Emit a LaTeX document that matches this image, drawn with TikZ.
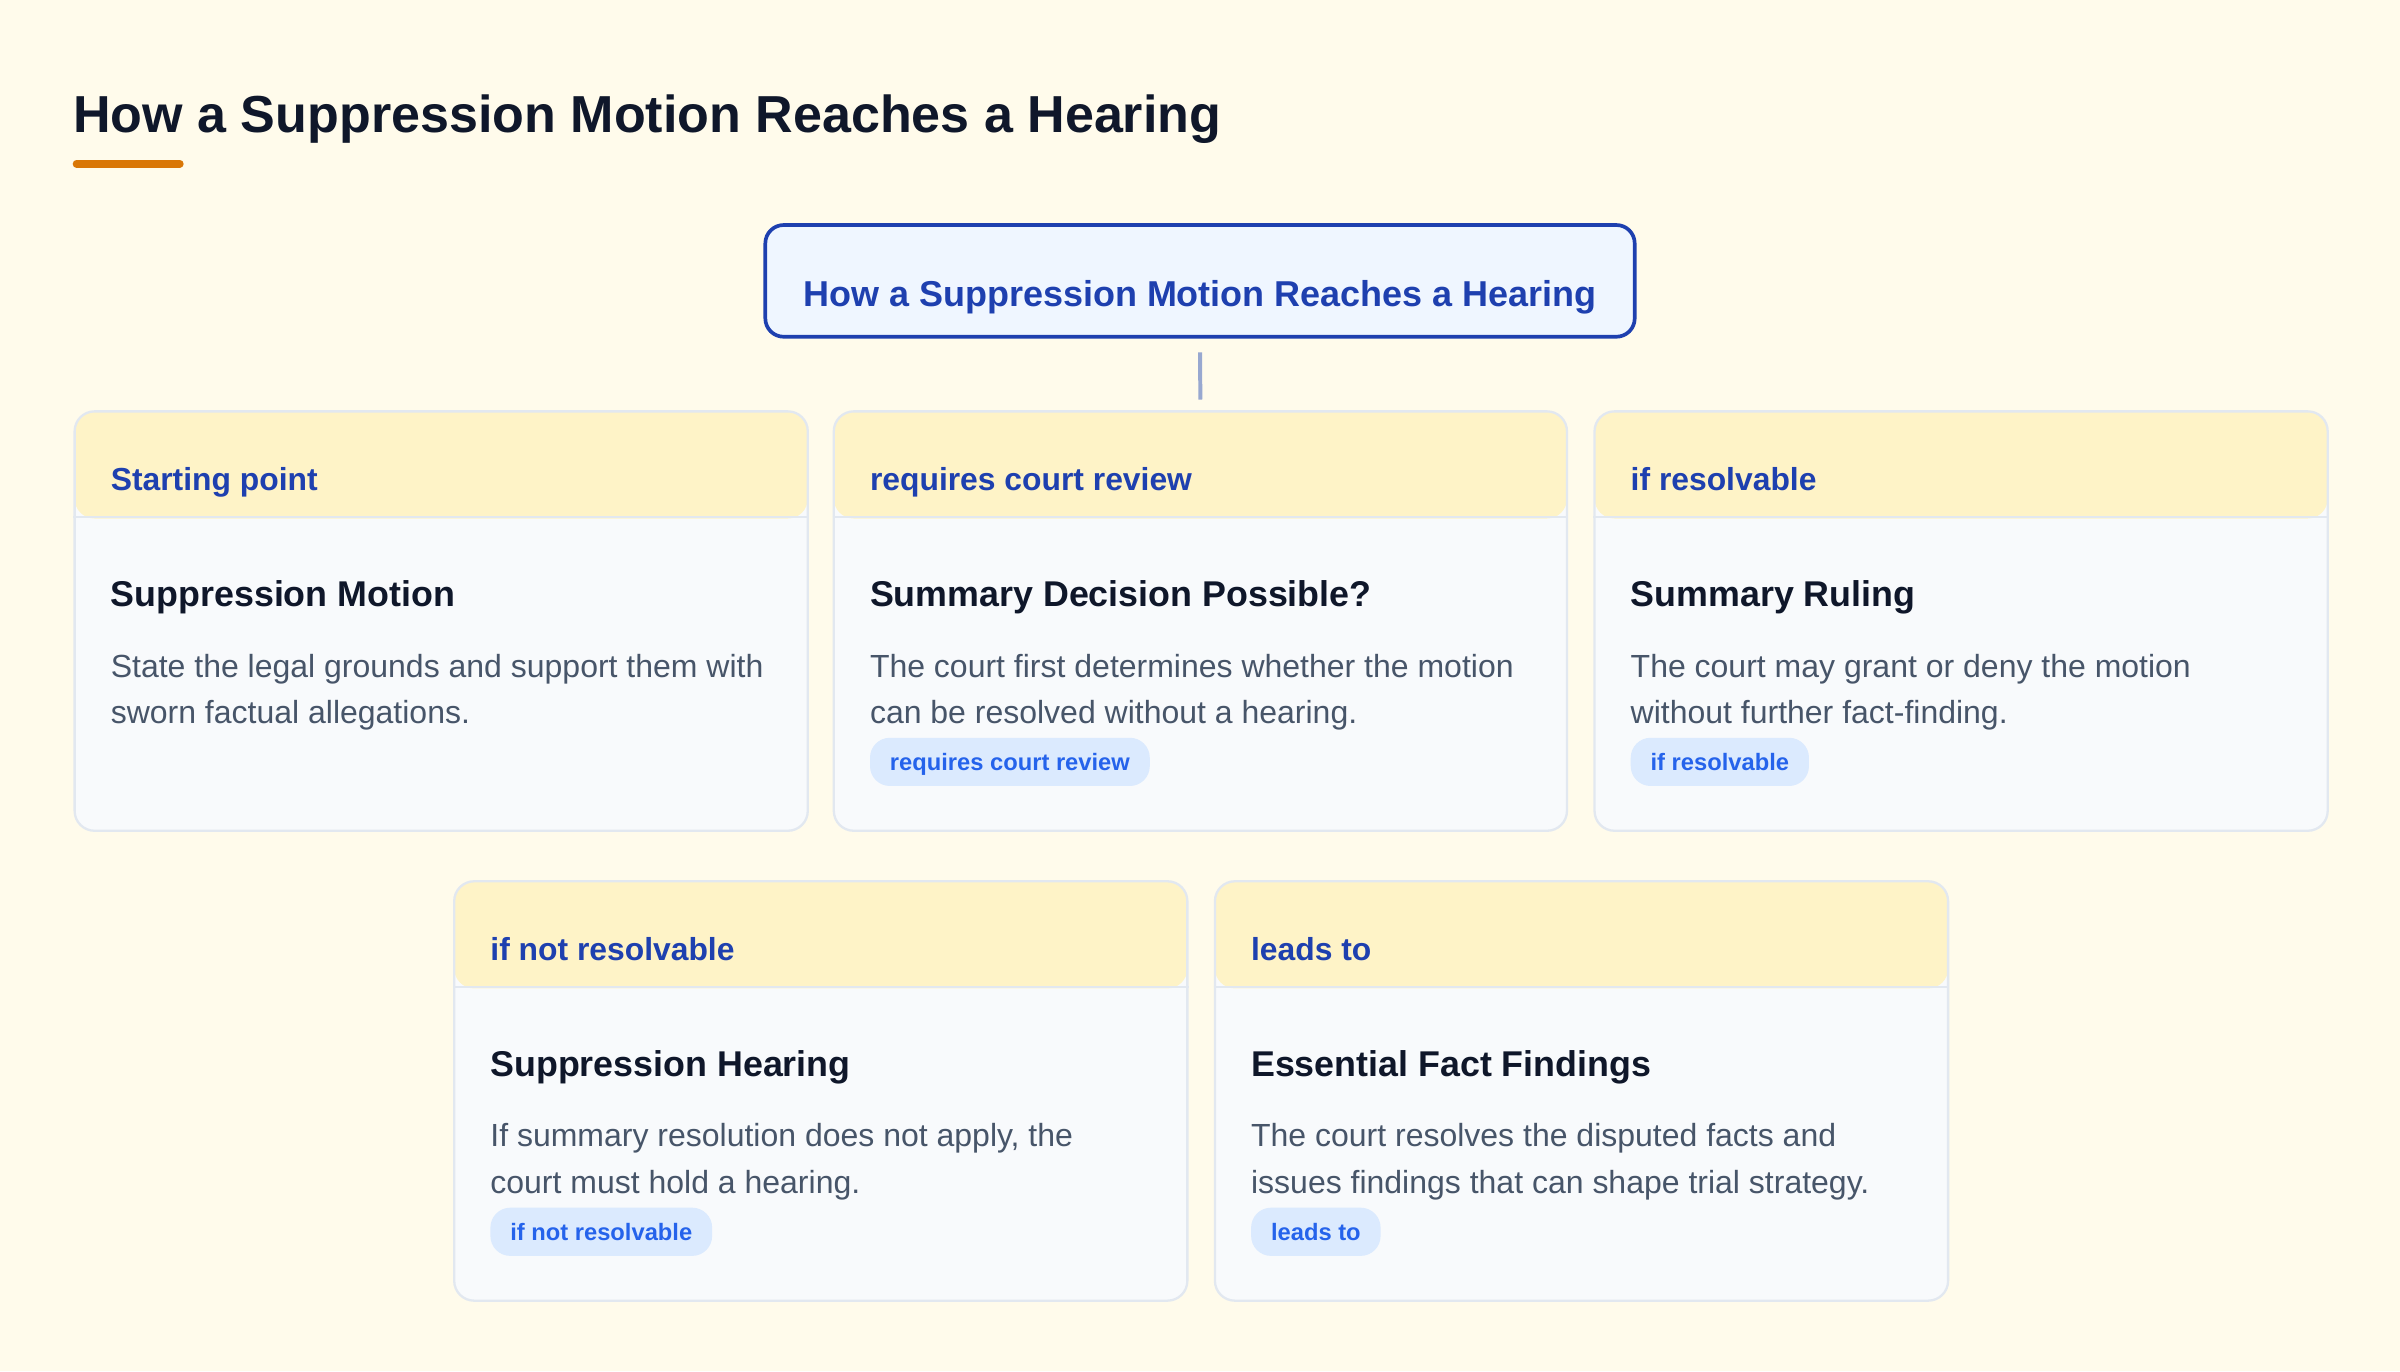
\documentclass[tikz,border=0pt]{standalone}
\usepackage{fontspec}
\setmainfont{Liberation Sans}
\usetikzlibrary{calc}
\definecolor{bgc}{HTML}{FFFBEB}
\definecolor{titlec}{HTML}{0F172A}
\definecolor{accent}{HTML}{D97706}
\definecolor{blued}{HTML}{1E40AF}
\definecolor{bluel}{HTML}{EFF6FF}
\definecolor{hdrfill}{HTML}{FEF3C7}
\definecolor{bodyfill}{HTML}{F8FAFC}
\definecolor{cardborder}{HTML}{E2E8F0}
\definecolor{bodyc}{HTML}{475569}
\definecolor{pillfill}{HTML}{DBEAFE}
\definecolor{pilltext}{HTML}{2563EB}
\definecolor{connc}{RGB}{152,168,208}
\tikzset{
  card/.style={rectangle, rounded corners=6.5pt, draw=cardborder, line width=0.75pt,
    fill=bodyfill, minimum width=239.5pt, minimum height=137pt, anchor=north west, inner sep=0pt,
    path picture={\fill[hdrfill] ([yshift=2pt]path picture bounding box.north west) rectangle ([yshift=-35pt]path picture bounding box.north east);}},
  divider/.style={draw=cardborder, line width=0.6pt},
  hdrtext/.style={anchor=base west, inner sep=0pt, text=blued, font=\fontsize{10.4pt}{12pt}\selectfont\bfseries},
  cardtitle/.style={anchor=base west, inner sep=0pt, text=titlec, font=\fontsize{11.7pt}{14pt}\selectfont\bfseries},
  bodytext/.style={anchor=base west, inner sep=0pt, text=bodyc, font=\fontsize{10.45pt}{12pt}\selectfont},
  pill/.style={anchor=west, rectangle, rounded corners=6.5pt, fill=pillfill, text=pilltext,
    font=\fontsize{7.75pt}{9pt}\selectfont\bfseries, inner xsep=6.5pt, inner ysep=0pt,
    minimum height=15.75pt, text height=5.5pt, text depth=0pt},
  topbox/.style={rectangle, rounded corners=6pt, draw=blued, line width=1.2pt, fill=bluel,
    minimum width=284pt, minimum height=36.5pt, inner sep=0pt},
  toptext/.style={anchor=base, inner sep=0pt, text=blued, font=\fontsize{11.75pt}{14pt}\selectfont\bfseries},
  conn/.style={draw=connc, line width=1.3pt},
}
\newcommand\cardbox[7]{%
  \node[card] (#1) at (#2,#3) {};
  \draw[divider] ($(#1.north west)+(0,70)$) -- ($(#1.north east)+(0,70)$);
  \node[hdrtext] (#1h) at ($(#1.north west)+(24,52.5)$) {#4};
  \node[cardtitle] (#1t) at ($(#1.north west)+(24,128.5)$) {#5};
  \node[bodytext] (#1a) at ($(#1.north west)+(24,174.3)$) {#6};
  \node[bodytext] (#1b) at ($(#1.north west)+(24,204.5)$) {#7};
}
\newcommand\pillat[2]{%
  \node[pill] (#1p) at ($(#1.north west)+(24,229.75)$) {#2};
}
\begin{document}
\begin{tikzpicture}[x=0.5pt,y=-0.5pt]
\fill[bgc] (0,0) rectangle (1568,896);
\useasboundingbox (0,0) rectangle (1568,896);
% page title
\node[anchor=base west, inner sep=0pt, text=titlec, font=\fontsize{17pt}{20pt}\selectfont\bfseries] (title) at (47.5,86.8) {How a Suppression Motion Reaches a Hearing};
\coordinate (ulA) at (50,107);
\coordinate (ulB) at (117.5,107);
\draw[accent, line width=2.5pt, line cap=round] (ulA) -- (ulB);
% top box
\node[topbox] (top) at (784,183.5) {};
\node[toptext] (toplabel) at (784,200.5) {How a Suppression Motion Reaches a Hearing};
% cards
\cardbox{c1}{48}{268}{Starting point}{Suppression Motion}{State the legal grounds and support them with}{sworn factual allegations.}
\cardbox{c2}{544}{268}{requires court review}{Summary Decision Possible?}{The court first determines whether the motion}{can be resolved without a hearing.}
\pillat{c2}{requires court review}
\cardbox{c3}{1041}{268}{if resolvable}{Summary Ruling}{The court may grant or deny the motion}{without further fact-finding.}
\pillat{c3}{if resolvable}
\cardbox{c4}{296}{575}{if not resolvable}{Suppression Hearing}{If summary resolution does not apply, the}{court must hold a hearing.}
\pillat{c4}{if not resolvable}
\cardbox{c5}{793}{575}{leads to}{Essential Fact Findings}{The court resolves the disputed facts and}{issues findings that can shape trial strategy.}
\pillat{c5}{leads to}
% connector
\draw[conn, shorten <=4.5pt, shorten >=3.5pt] (top.south) -- (c2.north);
\end{tikzpicture}
\end{document}
